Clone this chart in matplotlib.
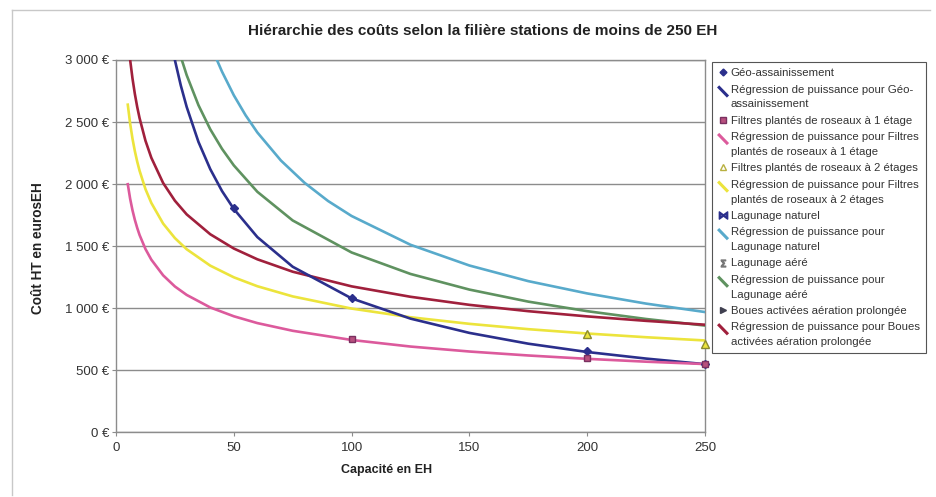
import matplotlib
matplotlib.use("Agg")
import matplotlib.pyplot as plt
from matplotlib.lines import Line2D
from matplotlib.legend_handler import HandlerBase

plt.rcParams['font.family'] = ['Liberation Sans', 'DejaVu Sans']

# ---------------- data ----------------
title = "Hiérarchie des coûts selon la filière stations de moins de 250 EH"
xlabel = "Capacité en EH"
ylabel = "Coût HT en eurosEH"
x_ticks = [0, 50, 100, 150, 200, 250]
y_ticks = [0, 500, 1000, 1500, 2000, 2500, 3000]
y_tick_labels = ["0 €", "500 €", "1 000 €", "1 500 €", "2 000 €", "2 500 €", "3 000 €"]

# observed points
geo_x = [50, 100, 200, 250]
geo_y = [1806, 1080, 658, 550]
f1_x = [100, 200, 250]
f1_y = [752, 596, 550]
f2_x = [200, 250]
f2_y = [790, 714]

# power regression curves
geo_reg_x = [24, 25, 27.5, 30, 35, 40, 45, 50, 60, 75, 100, 125, 150, 175, 200, 225, 250]
geo_reg_y = [3090, 2999, 2795, 2622, 2340, 2121, 1944, 1800, 1573, 1334, 1079, 916, 801, 714, 647, 594, 549]

f1_reg_x = [5, 6, 7, 8, 9, 10, 12.5, 15, 20, 25, 30, 40, 50, 60, 75, 100, 125, 150, 175, 200, 225, 250]
f1_reg_y = [1999, 1882, 1789, 1712, 1647, 1590, 1477, 1391, 1265, 1175, 1107, 1006, 935, 880, 818, 744, 691, 651, 619, 592, 569, 550]

f2_reg_x = [5, 6, 7, 8, 9, 10, 12.5, 15, 20, 25, 30, 40, 50, 60, 75, 100, 125, 150, 175, 200, 225, 250]
f2_reg_y = [2640, 2488, 2366, 2266, 2181, 2108, 1960, 1848, 1682, 1565, 1475, 1343, 1249, 1177, 1095, 997, 927, 874, 831, 796, 766, 740]

lagn_reg_x = [42, 45, 50, 55, 60, 70, 80, 90, 100, 125, 150, 175, 200, 225, 250]
lagn_reg_y = [3037, 2906, 2716, 2555, 2416, 2190, 2011, 1864, 1743, 1511, 1344, 1218, 1119, 1037, 969]

laga_reg_x = [27, 30, 35, 40, 45, 50, 60, 75, 100, 125, 150, 175, 200, 225, 250]
laga_reg_y = [3056, 2878, 2636, 2442, 2284, 2151, 1938, 1707, 1449, 1276, 1150, 1053, 976, 913, 860]

boues_reg_x = [6, 7, 8, 9, 10, 12.5, 15, 20, 25, 30, 40, 50, 60, 75, 100, 125, 150, 175, 200, 225, 250]
boues_reg_y = [3001, 2851, 2727, 2622, 2532, 2350, 2212, 2009, 1866, 1756, 1596, 1481, 1394, 1294, 1176, 1092, 1027, 976, 934, 898, 867]

labels = [
    "Géo-assainissement",
    "Régression de puissance pour Géo-\nassainissement",
    "Filtres plantés de roseaux à 1 étage",
    "Régression de puissance pour Filtres\nplantés de roseaux à 1 étage",
    "Filtres plantés de roseaux à 2 étages",
    "Régression de puissance pour Filtres\nplantés de roseaux à 2 étages",
    "Lagunage naturel",
    "Régression de puissance pour\nLagunage naturel",
    "Lagunage aéré",
    "Régression de puissance pour\nLagunage aéré",
    "Boues activées aération prolongée",
    "Régression de puissance pour Boues\nactivées aération prolongée",
]

# ---------------- style ----------------
c_geo = '#2b2f8c'
c_f1 = '#dc5a9c'
c_f2 = '#ece43c'
c_lagn = '#58aacb'
c_laga = '#5f9260'
c_boues = '#a0203c'
grid_c = '#8c8c8c'

fig = plt.figure(figsize=(9.37, 4.97), dpi=100)
fig.patch.set_facecolor('white')
W, H = 937, 497
ax = fig.add_axes([116 / W, 1 - 432.3 / H, (705 - 116) / W, (432.3 - 60) / H])

lw = 1.9
ax.plot(lagn_reg_x, lagn_reg_y, color=c_lagn, lw=lw, zorder=3)
ax.plot(laga_reg_x, laga_reg_y, color=c_laga, lw=lw, zorder=3)
ax.plot(boues_reg_x, boues_reg_y, color=c_boues, lw=lw, zorder=3)
ax.plot(f2_reg_x, f2_reg_y, color=c_f2, lw=lw, zorder=3)
ax.plot(geo_reg_x, geo_reg_y, color=c_geo, lw=lw, zorder=3)
ax.plot(f1_reg_x, f1_reg_y, color=c_f1, lw=lw, zorder=3)

ax.plot(geo_x, geo_y, ls='none', marker='D', ms=4, color=c_geo, zorder=5, clip_on=False)
ax.plot(f1_x, f1_y, ls='none', marker='s', ms=5, mfc='#b8507e', mec='#7a3060', zorder=6, clip_on=False)
ax.plot(f2_x, f2_y, ls='none', marker='^', ms=6, mfc=c_f2, mec='#8a8a30', zorder=6, clip_on=False)

ax.set_xlim(0, 250)
ax.set_ylim(0, 3000)
ax.set_xticks(x_ticks)
ax.set_xticklabels([str(v) for v in x_ticks])
ax.set_yticks(y_ticks)
ax.set_yticklabels(y_tick_labels)
ax.tick_params(axis='both', labelsize=9.5, colors='#333333', length=3, color=grid_c, pad=4)
ax.tick_params(axis='y', pad=2)
ax.yaxis.grid(True, color=grid_c, lw=1.0, zorder=1)
for s in ax.spines.values():
    s.set_color(grid_c)
    s.set_linewidth(1.0)

fig.text(483 / W, 1 - 31 / H, title, ha='center', va='center', fontsize=11, fontweight='bold', color='#222222')
fig.text(387 / W, 1 - 470 / H, xlabel, ha='center', va='center', fontsize=9, fontweight='bold', color='#222222')
fig.text(38 / W, 1 - 248 / H, ylabel, ha='center', va='center', rotation=90, fontsize=9.8, fontweight='bold', color='#222222')

# outer chart border (partial, as in scan)
fig.add_artist(Line2D([12 / W, 12 / W], [1 - 10 / H, 1 - 495 / H], color='#c8c8c8', lw=1, transform=fig.transFigure))
fig.add_artist(Line2D([12 / W, 930 / W], [1 - 10 / H, 1 - 10 / H], color='#c8c8c8', lw=1, transform=fig.transFigure))


class HandlerDiag(HandlerBase):
    def create_artists(self, legend, orig_handle, xdescent, ydescent, width, height, fontsize, trans):
        x0 = -xdescent + 0.1 * width
        x1 = -xdescent + 0.95 * width
        y0 = -ydescent + height * 1.7
        y1 = -ydescent + height * 0.7
        ln = Line2D([x0, x1], [y0, y1], color=orig_handle.get_color(), lw=2.2, transform=trans)
        return [ln]


class DiagHandle:
    def __init__(self, color):
        self._c = color

    def get_color(self):
        return self._c


h_geo = Line2D([], [], ls='none', marker='D', ms=3.5, color=c_geo)
h_f1 = Line2D([], [], ls='none', marker='s', ms=4.5, mfc='#b8507e', mec='#7a3060')
h_f2 = Line2D([], [], ls='none', marker='^', ms=5, mfc='white', mec='#b8b040')
h_lagn = Line2D([], [], ls='none', marker=r'$\bowtie$', ms=6, color=c_geo)
h_laga = Line2D([], [], ls='none', marker=r'$\Sigma$', ms=5, color='#777777')
h_boues = Line2D([], [], ls='none', marker='>', ms=4.5, color='#404050')
handles = [h_geo, DiagHandle(c_geo), h_f1, DiagHandle(c_f1), h_f2, DiagHandle(c_f2),
           h_lagn, DiagHandle(c_lagn), h_laga, DiagHandle(c_laga), h_boues, DiagHandle(c_boues)]
hmap = {h: HandlerDiag() for h in handles if isinstance(h, DiagHandle)}

leg = fig.legend(handles, labels, handler_map=hmap, loc='upper left',
                 bbox_to_anchor=(712 / W, 1 - 62 / H), fontsize=8.2, frameon=True,
                 fancybox=False, edgecolor='#555555', framealpha=1, handlelength=0.8,
                 handletextpad=0.3, borderpad=0.55, labelspacing=0.56, borderaxespad=0)
leg.get_frame().set_linewidth(0.8)
for t in leg.get_texts():
    t.set_color('#333333')
    t.set_linespacing(1.6)

fig.savefig('out.png', dpi=100, facecolor='white')
